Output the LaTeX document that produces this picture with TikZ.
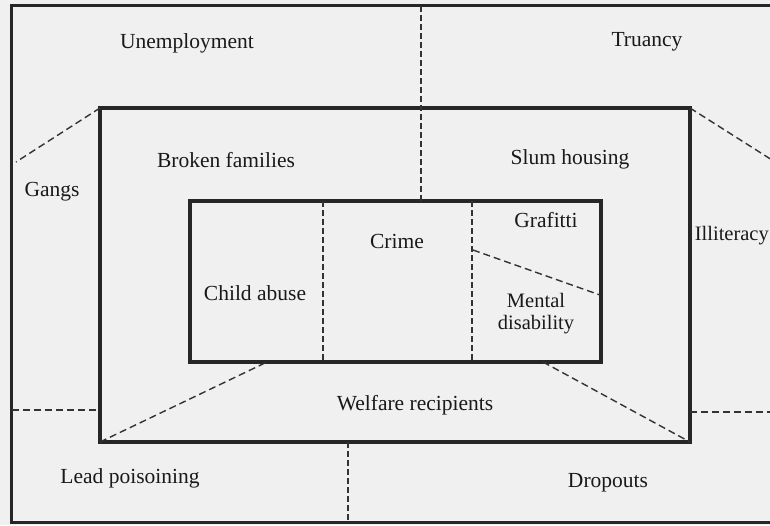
\documentclass[tikz,border=0pt]{standalone}
\usepackage{fontspec}
\setmainfont{Liberation Serif}
\begin{document}
\begin{tikzpicture}[x=1pt,y=-1pt,
  box/.style={draw=black!85,line width=4pt},
  outerbox/.style={draw=black!85,line width=3pt},
  divider/.style={draw=black!80,line width=1.4pt,dash pattern=on 7pt off 4pt},
  vdivider/.style={draw=black!80,line width=1.4pt,dash pattern=on 6pt off 3pt},
  lbl/.style={font=\fontsize{21.5}{19}\selectfont,text=black!90,inner sep=0pt,align=center}]
\fill[gray!12] (0,0) rectangle (770,525);
\useasboundingbox (0,0) rectangle (770,525);
% rectangles
\draw[outerbox] (790,5) -- (11,5) -- (11,522) -- (790,522);
\draw[box] (100,108) rectangle (690,442);
\draw[box] (190,201) rectangle (601,362);
% coordinates
\coordinate (mTL) at (100,108);
\coordinate (mTR) at (690,108);
\coordinate (mBL) at (100,442);
\coordinate (mBR) at (690,442);
% dashed dividers
\draw[vdivider] (421,6) -- (421,201);
\draw[vdivider] (323,201) -- (323,362);
\draw[vdivider] (472,201) -- (472,362);
\draw[divider] (473,250) -- (600,295);
\draw[divider] (mTL) -- (16,162);
\draw[divider] (mTR) -- (772,160);
\draw[divider] (12,410) -- (100,410);
\draw[divider] (690,412) -- (772,412);
\draw[divider] (mBL) -- (267,362);
\draw[divider] (543,362) -- (mBR);
\draw[vdivider] (348,442) -- (348,521);
% labels
\node[lbl] (unemp) at (187,43) {Unemployment};
\node[lbl] (truancy) at (647,42) {Truancy};
\node[lbl] (broken) at (226,160) {Broken families};
\node[lbl] (slum) at (570,159) {Slum housing};
\node[lbl] (gangs) at (52,192) {Gangs};
\node[lbl,font=\fontsize{20.5}{19}\selectfont,anchor=east] (illit) at (769,236) {Illiteracy};
\node[lbl] (graf) at (546,220) {Grafitti};
\node[lbl] (crime) at (397,241) {Crime};
\node[lbl] (child) at (255,293) {Child abuse};
\node[lbl,font=\fontsize{20.5}{22}\selectfont] (mental) at (536,314) {Mental\\disability};
\node[lbl] (welfare) at (415,405) {Welfare recipients};
\node[lbl] (lead) at (130,478) {Lead poisoining};
\node[lbl] (drop) at (608,483) {Dropouts};
\end{tikzpicture}
\end{document}
